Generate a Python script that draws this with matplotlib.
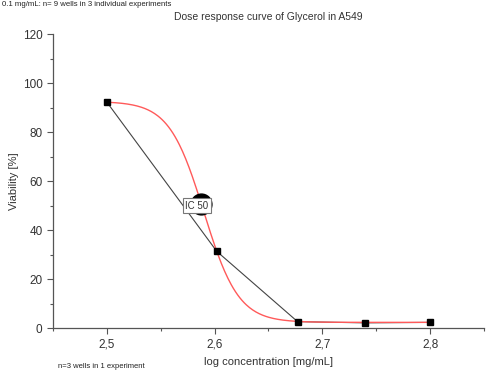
import numpy as np
import matplotlib
matplotlib.use("Agg")
import matplotlib.pyplot as plt
from matplotlib.ticker import MultipleLocator, FuncFormatter

plt.rcParams['font.family'] = ['Liberation Sans', 'DejaVu Sans']

# measured viability per log concentration
log_conc = [2.500, 2.602, 2.677, 2.740, 2.800]
viability = [92.2, 31.3, 2.6, 2.1, 2.3]

# four-parameter logistic fit
fit_top = 92.5
fit_bottom = 2.3
fit_log_ic50 = 2.59
fit_hill = 27.0

ic50_x = 2.587
ic50_y = 50.5

fig = plt.figure(figsize=(4.87, 3.75), dpi=100)
ax = fig.add_axes([0.1088, 0.1253, 0.885, 0.784])

xfit = np.linspace(log_conc[0], log_conc[-1], 300)
yfit = fit_bottom + (fit_top - fit_bottom) / (1 + 10 ** ((xfit - fit_log_ic50) * fit_hill))

ax.plot(log_conc, viability, color='#444444', lw=0.8, zorder=2)
ax.plot(xfit, yfit, color='#ff5a5a', lw=1.0, zorder=3)
ax.plot(log_conc, viability, ls='none', marker='s', ms=4.5, color='black', zorder=4)

# IC50 marker and label
ax.plot([ic50_x], [ic50_y], marker='o', ms=15, color='black', zorder=5)
ax.text(ic50_x - 0.0035, ic50_y - 0.5, 'IC 50', ha='center', va='center', fontsize=7,
        color='#333333', zorder=6,
        bbox=dict(boxstyle='square,pad=0.28', fc='white', ec='#777777', lw=0.8))

ax.set_xlim(2.45, 2.85)
ax.set_ylim(0, 120)

for s in ['top', 'right']:
    ax.spines[s].set_visible(False)
for s in ['left', 'bottom']:
    ax.spines[s].set_color('#555555')
    ax.spines[s].set_linewidth(0.9)

ax.xaxis.set_major_locator(MultipleLocator(0.1))
ax.xaxis.set_minor_locator(MultipleLocator(0.05))
ax.yaxis.set_major_locator(MultipleLocator(20))
ax.yaxis.set_minor_locator(MultipleLocator(10))
ax.xaxis.set_major_formatter(FuncFormatter(lambda v, p: f'{v:.1f}'.replace('.', ',')))
ax.yaxis.set_major_formatter(FuncFormatter(lambda v, p: f'{v:.0f}'))
ax.set_xticks([2.5, 2.6, 2.7, 2.8])

ax.tick_params(which='major', length=4, width=0.8, color='#555555', labelsize=8.5,
               labelcolor='#333333')
ax.tick_params(which='minor', length=2.5, width=0.8, color='#555555')

ax.set_xlabel('log concentration [mg/mL]', fontsize=8, color='#333333', labelpad=5)
ax.set_ylabel('Viability [%]', fontsize=8, color='#333333', labelpad=3)
ax.set_title('Dose response curve of Glycerol in A549', fontsize=7.5, color='#333333', pad=10)

fig.text(0.004, 0.998, '0.1 mg/mL: n= 9 wells in 3 individual experiments', ha='left',
         va='top', fontsize=5.6, color='#222222')
fig.text(0.119, 0.024, 'n=3 wells in 1 experiment', ha='left', va='center', fontsize=5.5,
         color='#222222')

fig.savefig('out.png', dpi=100)
